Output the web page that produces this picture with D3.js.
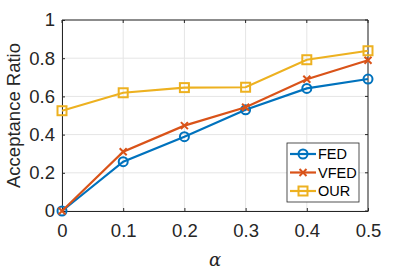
<!DOCTYPE html>
<html lang="en">
<head>
<meta charset="utf-8">
<title>Acceptance Ratio</title>
<script src="https://cdn.jsdelivr.net/npm/d3@7"></script>
<style>
  html, body { margin: 0; padding: 0; background: #fff; overflow: hidden; }
  text { font-family: "Liberation Sans", Arial, sans-serif; fill: #262626; }
</style>
</head>
<body>
<div id="chart"></div>
<script>
// data
var alphas = [0, 0.1, 0.2, 0.3, 0.4, 0.5];
var fed  = [0, 0.258, 0.389, 0.53, 0.642, 0.691];
var vfed = [0, 0.31, 0.447, 0.543, 0.69, 0.789];
var our  = [0.525, 0.619, 0.646, 0.648, 0.792, 0.839];
var seriesNames = ["FED", "VFED", "OUR"];
var xTicks = [0, 0.1, 0.2, 0.3, 0.4, 0.5];
var yTicks = [0, 0.2, 0.4, 0.6, 0.8, 1];

var w = 407, h = 271;
var mLeft = 62, mRight = 368, mTop = 20, mBottom = 211;

var colors = ["#0072BD", "#D95319", "#EDB120"];
var markers = ["circle", "cross", "square"];
var allSeries = [fed, vfed, our];

var svg = d3.select("#chart").append("svg")
  .attr("width", w).attr("height", h);

var xScale = d3.scaleLinear().domain([0, 0.5]).range([mLeft, mRight]);
var yScale = d3.scaleLinear().domain([0, 1]).range([mBottom, mTop]);

// grid
svg.append("g").selectAll("line").data(xTicks).enter().append("line")
  .attr("x1", function(d){ return xScale(d); }).attr("x2", function(d){ return xScale(d); })
  .attr("y1", mTop).attr("y2", mBottom)
  .attr("stroke", "#e5e5e5").attr("stroke-width", 1);
svg.append("g").selectAll("line").data(yTicks).enter().append("line")
  .attr("x1", mLeft).attr("x2", mRight)
  .attr("y1", function(d){ return yScale(d); }).attr("y2", function(d){ return yScale(d); })
  .attr("stroke", "#e5e5e5").attr("stroke-width", 1);

// axes
var fmt = function(d){ return d === 0 ? "0" : d === 1 ? "1" : d3.format(".1f")(d); };
var xAxis = d3.axisBottom(xScale).tickValues(xTicks).tickFormat(fmt).tickSizeInner(-3).tickSizeOuter(0).tickPadding(13);
var yAxis = d3.axisLeft(yScale).tickValues(yTicks).tickFormat(fmt).tickSizeInner(-3).tickSizeOuter(0).tickPadding(7);

var gx = svg.append("g").attr("transform", "translate(0," + mBottom + ")").call(xAxis);
var gy = svg.append("g").attr("transform", "translate(" + mLeft + ",0)").call(yAxis);
[gx, gy].forEach(function(g){
  g.attr("font-size", null).attr("font-family", null);
  g.selectAll("path").attr("stroke", "#262626");
  g.selectAll("line").attr("stroke", "#262626");
  g.selectAll("text").style("font-size", "18.5px").style("fill", "#262626")
    .style("font-family", "'Liberation Sans', Arial, sans-serif");
});
// top and right box with ticks
svg.append("line").attr("x1", mLeft).attr("x2", mRight).attr("y1", mTop).attr("y2", mTop).attr("stroke", "#262626");
svg.append("line").attr("x1", mRight).attr("x2", mRight).attr("y1", mTop).attr("y2", mBottom).attr("stroke", "#262626");
svg.append("g").selectAll("line").data(xTicks).enter().append("line")
  .attr("x1", function(d){ return xScale(d); }).attr("x2", function(d){ return xScale(d); })
  .attr("y1", mTop).attr("y2", mTop + 3).attr("stroke", "#262626");
svg.append("g").selectAll("line").data(yTicks).enter().append("line")
  .attr("x1", mRight - 3).attr("x2", mRight)
  .attr("y1", function(d){ return yScale(d); }).attr("y2", function(d){ return yScale(d); })
  .attr("stroke", "#262626");

// axis labels
svg.append("text").attr("x", 215).attr("y", 266).attr("text-anchor", "middle")
  .style("font-size", "18px").style("font-style", "italic")
  .style("font-family", "'DejaVu Serif', 'Liberation Serif', serif").text("α");
svg.append("text").attr("transform", "translate(20," + ((mTop + mBottom) / 2) + ") rotate(-90)")
  .attr("text-anchor", "middle").style("font-size", "18.5px").text("Acceptance Ratio");

function drawMarker(g, type, x, y, color) {
  if (type === "circle") {
    g.append("circle").attr("cx", x).attr("cy", y).attr("r", 4.5)
      .attr("fill", "none").attr("stroke", color).attr("stroke-width", 2);
  } else if (type === "square") {
    g.append("rect").attr("x", x - 4.5).attr("y", y - 4.5).attr("width", 9).attr("height", 9)
      .attr("fill", "none").attr("stroke", color).attr("stroke-width", 2);
  } else {
    var s = 3.5;
    g.append("path").attr("d", "M" + (x - s) + "," + (y - s) + "L" + (x + s) + "," + (y + s) +
      "M" + (x - s) + "," + (y + s) + "L" + (x + s) + "," + (y - s))
      .attr("stroke", color).attr("stroke-width", 2).attr("fill", "none");
  }
}

var line = d3.line()
  .x(function(d, i){ return xScale(alphas[i]); })
  .y(function(d){ return yScale(d); });

allSeries.forEach(function(vals, k){
  var g = svg.append("g");
  g.append("path").datum(vals).attr("d", line)
    .attr("fill", "none").attr("stroke", colors[k]).attr("stroke-width", 2.2);
  vals.forEach(function(v, i){ drawMarker(g, markers[k], xScale(alphas[i]), yScale(v), colors[k]); });
});

// legend
var lx = 287, ly = 143, lw = 72, lh = 59;
var leg = svg.append("g");
leg.append("rect").attr("x", lx).attr("y", ly).attr("width", lw).attr("height", lh)
  .attr("fill", "#fff").attr("stroke", "#262626").attr("stroke-width", 0.8);
seriesNames.forEach(function(name, k){
  var yy = ly + 11 + k * 18.5;
  leg.append("line").attr("x1", lx + 3).attr("x2", lx + 29).attr("y1", yy).attr("y2", yy)
    .attr("stroke", colors[k]).attr("stroke-width", 2.2);
  drawMarker(leg, markers[k], lx + 16, yy, colors[k]);
  leg.append("text").attr("x", lx + 31).attr("y", yy + 5).style("font-size", "14.5px").style("fill", "#000").text(name);
});
</script>
</body>
</html>
